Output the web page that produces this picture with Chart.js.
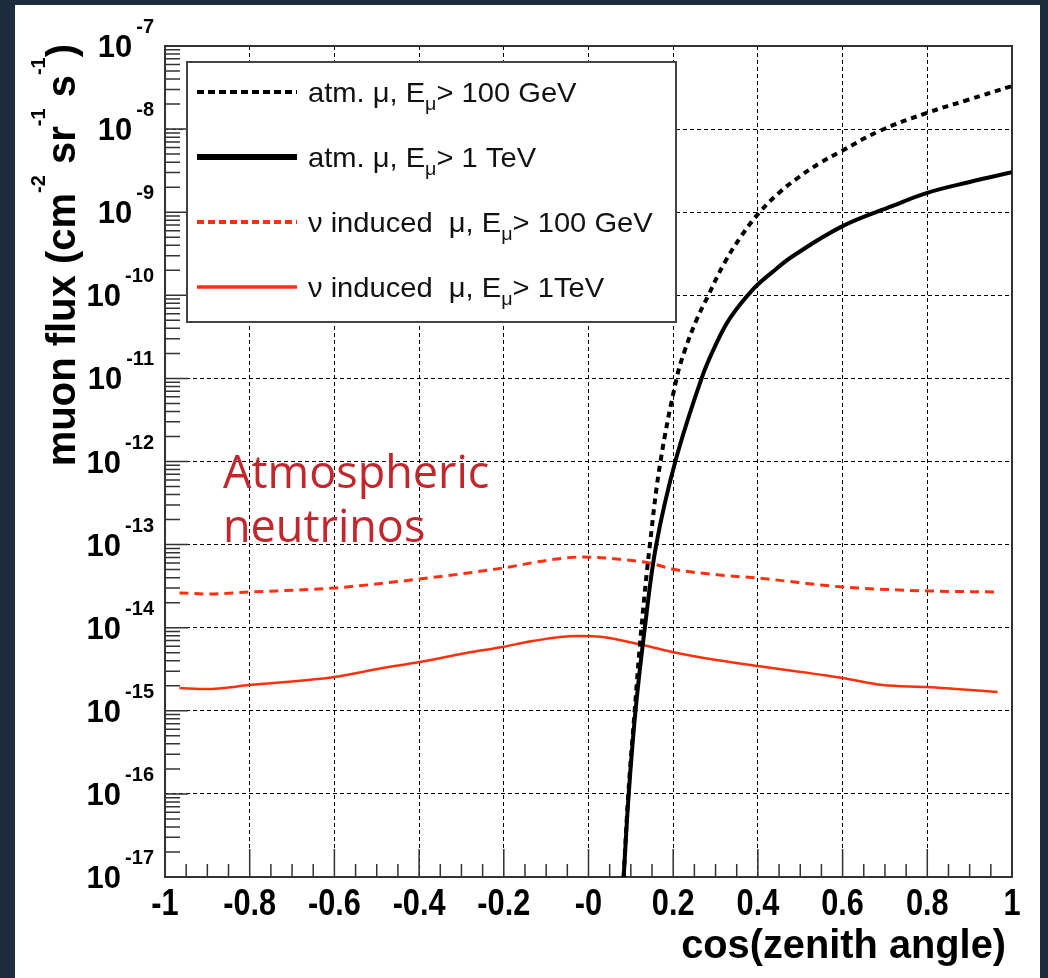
<!DOCTYPE html>
<html>
<head>
<meta charset="utf-8">
<script src="https://cdn.jsdelivr.net/npm/chart.js@4/dist/chart.umd.min.js"></script>
<style>
html, body { margin: 0; padding: 0; background: #1c2b3e; }
#wrap { width: 1048px; height: 978px; position: relative; }
</style>
</head>
<body>
<div id="wrap"><canvas id="canvasPanel"></canvas></div>
<script>
// values: cos(zenith) and muon flux (cm^-2 sr^-1 s^-1)
var atm100X = [0.083, 0.094, 0.109, 0.125, 0.145, 0.170, 0.208, 0.227, 0.255, 0.283, 0.321, 0.361, 0.404, 0.451, 0.498, 0.545, 0.593, 0.687, 0.798, 0.895, 1.0];
var atm100Flux = [1.0e-17, 1.0e-16, 1.0e-15, 1.0e-14, 1.0e-13, 1.0e-12, 1.0e-11, 2.14e-11, 5.05e-11, 1.0e-10, 2.45e-10, 5.18e-10, 1.0e-9, 1.73e-9, 2.67e-9, 3.87e-9, 5.29e-9, 9.48e-9, 1.56e-8, 2.24e-8, 3.3e-8];

var atm1000X = [0.083, 0.095, 0.111, 0.133, 0.160, 0.205, 0.267, 0.300, 0.335, 0.390, 0.434, 0.482, 0.600, 0.718, 0.798, 0.900, 1.0];
var atm1000Flux = [1.0e-17, 1.0e-16, 1.0e-15, 1.0e-14, 1.0e-13, 1.0e-12, 1.0e-11, 2.51e-11, 5.37e-11, 1.2e-10, 1.9e-10, 2.95e-10, 6.8e-10, 1.19e-9, 1.70e-9, 2.31e-9, 3.02e-9];

var nu100X = [-0.966, -0.902, -0.800, -0.600, -0.399, -0.203, -0.092, -0.014, 0.066, 0.144, 0.198, 0.309, 0.399, 0.600, 0.800, 0.966];
var nu100Flux = [2.62e-14, 2.55e-14, 2.69e-14, 3.01e-14, 3.85e-14, 5.22e-14, 6.53e-14, 7.10e-14, 6.71e-14, 6.01e-14, 5.08e-14, 4.31e-14, 3.96e-14, 3.09e-14, 2.77e-14, 2.69e-14];

var nu1000X = [-0.966, -0.902, -0.800, -0.600, -0.486, -0.399, -0.288, -0.203, -0.132, -0.028, 0.033, 0.128, 0.198, 0.302, 0.399, 0.600, 0.694, 0.800, 0.966];
var nu1000Flux = [1.88e-15, 1.83e-15, 2.04e-15, 2.55e-15, 3.27e-15, 3.86e-15, 4.97e-15, 5.86e-15, 6.92e-15, 7.94e-15, 7.73e-15, 6.19e-15, 5.11e-15, 4.08e-15, 3.46e-15, 2.48e-15, 2.04e-15, 1.93e-15, 1.68e-15];

var yDecades = [1e-17, 1e-16, 1e-15, 1e-14, 1e-13, 1e-12, 1e-11, 1e-10, 1e-9, 1e-8, 1e-7];
var yExponents = ['-17', '-16', '-15', '-14', '-13', '-12', '-11', '-10', '-9', '-8', '-7'];
var xTickValues = [-1, -0.8, -0.6, -0.4, -0.2, 0, 0.2, 0.4, 0.6, 0.8, 1];
var xTickLabels = ['-1', '-0.8', '-0.6', '-0.4', '-0.2', '-0', '0.2', '0.4', '0.6', '0.8', '1'];

var RED = '#ff3010';
var seriesNames = ['atm. \u03bc, E\u03bc> 100 GeV', 'atm. \u03bc, E\u03bc> 1 TeV', '\u03bd induced  \u03bc, E\u03bc> 100 GeV', '\u03bd induced  \u03bc, E\u03bc> 1TeV'];
var legendParts = [
  ['atm. \u03bc, E', '\u03bc', '> 100 GeV'],
  ['atm. \u03bc, E', '\u03bc', '> 1 TeV'],
  ['\u03bd induced  \u03bc, E', '\u03bc', '> 100 GeV'],
  ['\u03bd induced  \u03bc, E', '\u03bc', '> 1TeV']
];

function pairs(xs, ys) {
  return xs.map(function(x, i) { return {x: x, y: ys[i]}; });
}

function drawParts(ctx, x, y, parts) {
  parts.forEach(function(p) {
    ctx.font = p.font;
    ctx.fillText(p.t, x, y + (p.dy || 0));
    x += ctx.measureText(p.t).width;
  });
  return x;
}

function partsWidth(ctx, parts) {
  var w = 0;
  parts.forEach(function(p) { ctx.font = p.font; w += ctx.measureText(p.t).width; });
  return w;
}

var rootLook = {
  id: 'rootLook',
  beforeDraw: function(chart) {
    var ctx = chart.ctx;
    ctx.save();
    ctx.fillStyle = '#1c2b3e';
    ctx.fillRect(0, 0, chart.width, chart.height);
    ctx.fillStyle = '#ffffff';
    ctx.fillRect(15, 5, 1025, 973);
    ctx.restore();
  },
  beforeDatasetsDraw: function(chart) {
    var ctx = chart.ctx, a = chart.chartArea;
    var xs = chart.scales.x, ys = chart.scales.y;
    ctx.save();
    ctx.strokeStyle = '#333';
    ctx.lineWidth = 1.5;
    ctx.beginPath();
    // y ticks: decades long, 2..9 short
    for (var n = -17; n <= -7; n++) {
      for (var k = 1; k <= 9; k++) {
        if (n === -7 && k > 1) break;
        var py = ys.getPixelForValue(k * Math.pow(10, n));
        var len = k === 1 ? 23 : 15;
        ctx.moveTo(a.left, py);
        ctx.lineTo(a.left + len, py);
      }
    }
    // x ticks every 0.05
    for (var i = 0; i <= 40; i++) {
      var px = xs.getPixelForValue(-1 + i * 0.05);
      var l = i % 4 === 0 ? 28 : 13;
      ctx.moveTo(px, a.bottom);
      ctx.lineTo(px, a.bottom - l);
    }
    ctx.stroke();
    ctx.lineWidth = 2;
    ctx.strokeRect(a.left, a.top, a.right - a.left, a.bottom - a.top);
    ctx.restore();
  },
  afterDatasetsDraw: function(chart) {
    var ctx = chart.ctx, a = chart.chartArea;
    var xs = chart.scales.x, ys = chart.scales.y;
    ctx.save();

    // legend box
    ctx.fillStyle = '#fff';
    ctx.fillRect(187, 62, 489, 260);
    ctx.strokeStyle = '#444';
    ctx.lineWidth = 2;
    ctx.strokeRect(187, 62, 489, 260);
    var ds = chart.data.datasets;
    for (var i = 0; i < ds.length; i++) {
      var cy = 92 + i * 65;
      ctx.beginPath();
      ctx.strokeStyle = ds[i].borderColor;
      ctx.lineWidth = i === 1 ? 6 : (i === 3 ? 3.5 : 4);
      ctx.setLineDash(ds[i].borderDash.length ? [7, 4] : []);
      ctx.moveTo(197, cy);
      ctx.lineTo(297, cy);
      ctx.stroke();
      ctx.setLineDash([]);
      ctx.fillStyle = '#111';
      ctx.textAlign = 'left';
      ctx.textBaseline = 'alphabetic';
      var p = legendParts[i];
      ctx.save();
      ctx.translate(308, cy + 10);
      ctx.scale(1.04, 1);
      drawParts(ctx, 0, 0, [
        {t: p[0], font: '28px "Liberation Sans"'},
        {t: p[1], font: '19px "Liberation Sans"', dy: 8},
        {t: p[2], font: '28px "Liberation Sans"'}
      ]);
      ctx.restore();
    }

    // y tick labels 10^n
    ctx.fillStyle = '#000';
    ctx.textAlign = 'left';
    for (var j = 0; j < yDecades.length; j++) {
      var py = ys.getPixelForValue(yDecades[j]);
      ctx.font = 'bold 20px "Liberation Sans"';
      var ew = ctx.measureText(yExponents[j]).width;
      ctx.fillText(yExponents[j], 154 - ew, py - 13);
      ctx.font = 'bold 31px "Liberation Sans"';
      var bw = ctx.measureText('10').width;
      ctx.fillText('10', 154 - ew - 4 - bw, py + 11);
    }

    // x tick labels, condensed
    ctx.font = 'bold 37px "Liberation Sans"';
    ctx.textAlign = 'center';
    for (var m = 0; m < xTickValues.length; m++) {
      var px = xs.getPixelForValue(xTickValues[m]);
      ctx.save();
      ctx.translate(px, 915);
      ctx.scale(0.83, 1);
      ctx.fillText(xTickLabels[m], 0, 0);
      ctx.restore();
    }

    // x title
    ctx.save();
    ctx.font = 'bold 41px "Liberation Sans"';
    ctx.textAlign = 'right';
    ctx.translate(1006, 958);
    ctx.scale(0.97, 1);
    ctx.fillText('cos(zenith angle)', 0, 0);
    ctx.restore();

    // y title, rotated
    var tparts = [
      {t: 'muon flux (cm', font: 'bold 40px "Liberation Sans"'},
      {t: '-2', font: 'bold 20px "Liberation Sans"', dy: -30},
      {t: ' sr', font: 'bold 40px "Liberation Sans"'},
      {t: '-1', font: 'bold 20px "Liberation Sans"', dy: -30},
      {t: ' s', font: 'bold 40px "Liberation Sans"'},
      {t: '-1', font: 'bold 20px "Liberation Sans"', dy: -30},
      {t: ')', font: 'bold 40px "Liberation Sans"'}
    ];
    ctx.save();
    ctx.translate(75, 44);
    ctx.rotate(-Math.PI / 2);
    ctx.textAlign = 'left';
    drawParts(ctx, -partsWidth(ctx, tparts), 0, tparts);
    ctx.restore();

    // annotation
    ctx.fillStyle = '#c1272d';
    ctx.textAlign = 'left';
    ctx.font = '45px "Open Sans"';
    ctx.fillText('Atmospheric', 223, 488);
    ctx.fillText('neutrinos', 223, 542);

    ctx.restore();
  }
};

var config = {
  type: 'scatter',
  data: {
    datasets: [{
      label: seriesNames[0],
      data: pairs(atm100X, atm100Flux),
      borderColor: '#000',
      borderWidth: 4,
      borderDash: [6, 5],
      showLine: true,
      pointRadius: 0,
      tension: 0.4
    }, {
      label: seriesNames[1],
      data: pairs(atm1000X, atm1000Flux),
      borderColor: '#000',
      borderWidth: 4,
      borderDash: [],
      showLine: true,
      pointRadius: 0,
      tension: 0.4
    }, {
      label: seriesNames[2],
      data: pairs(nu100X, nu100Flux),
      borderColor: RED,
      borderWidth: 3,
      borderDash: [9, 6],
      showLine: true,
      pointRadius: 0,
      cubicInterpolationMode: 'monotone'
    }, {
      label: seriesNames[3],
      data: pairs(nu1000X, nu1000Flux),
      borderColor: RED,
      borderWidth: 2.5,
      borderDash: [],
      showLine: true,
      pointRadius: 0,
      cubicInterpolationMode: 'monotone'
    }]
  },
  options: {
    responsive: true,
    maintainAspectRatio: false,
    animation: false,
    layout: { padding: { left: 165, right: 36, top: 46, bottom: 101 } },
    plugins: { legend: { display: false }, tooltip: { enabled: false } },
    scales: {
      x: {
        type: 'linear',
        min: -1,
        max: 1,
        afterBuildTicks: function(scale) {
          scale.ticks = xTickValues.map(function(v) { return {value: v}; });
        },
        ticks: { display: false },
        grid: { color: '#000', lineWidth: 1, drawTicks: false },
        border: { display: false, dash: [4, 3] }
      },
      y: {
        type: 'logarithmic',
        min: 1e-17,
        max: 1e-7,
        afterBuildTicks: function(scale) {
          scale.ticks = yDecades.map(function(v) { return {value: v}; });
        },
        ticks: { display: false },
        grid: { color: '#000', lineWidth: 1, drawTicks: false },
        border: { display: false, dash: [4, 3] }
      }
    }
  },
  plugins: [rootLook]
};

window.onload = function() {
  var ctx = document.getElementById('canvasPanel').getContext('2d');
  window.myLine = new Chart(ctx, config);
};
</script>
</body>
</html>
